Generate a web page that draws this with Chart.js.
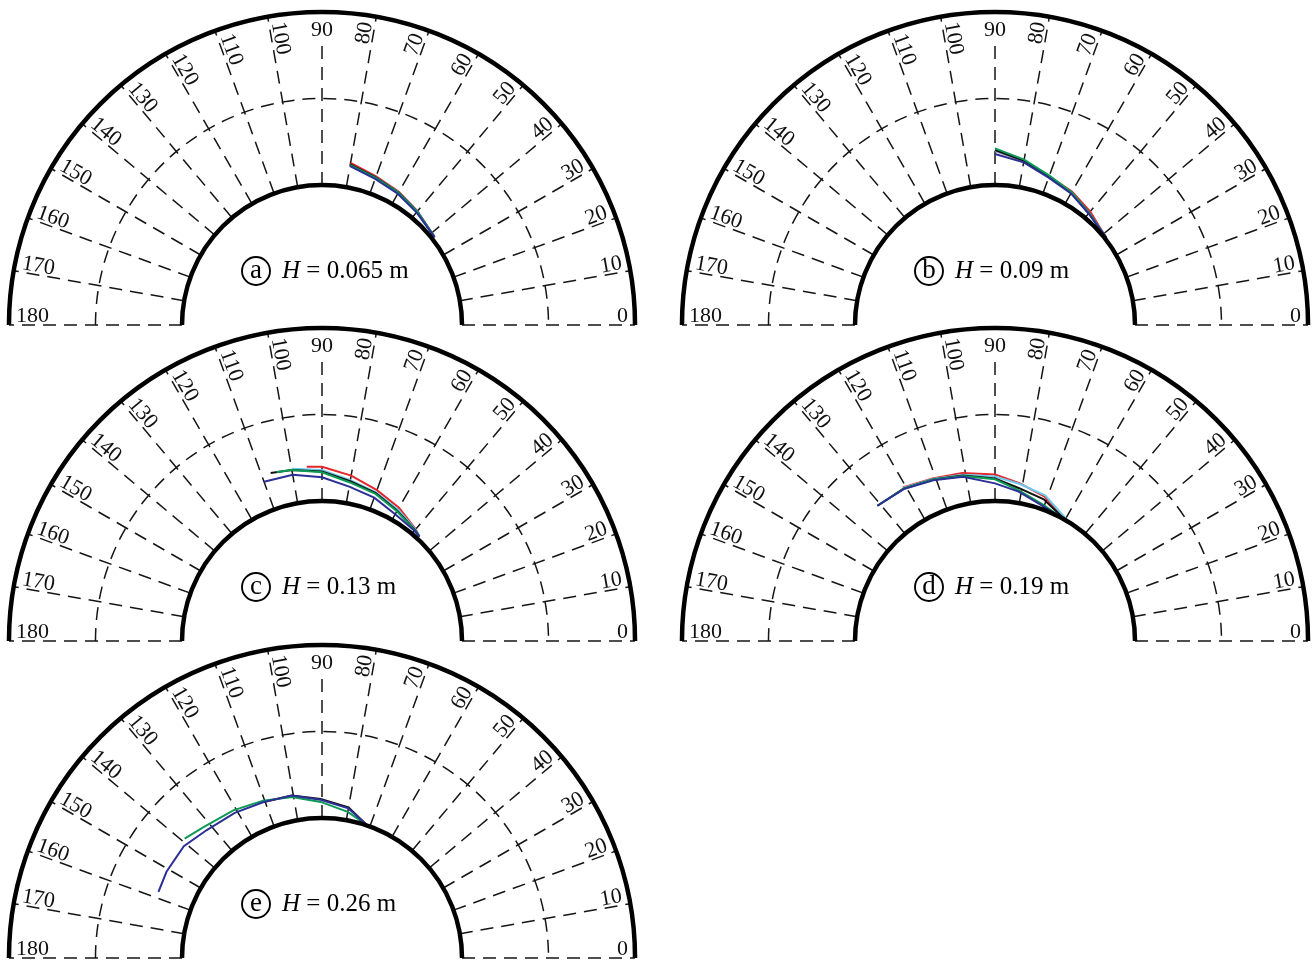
<!DOCTYPE html>
<html>
<head>
<meta charset="utf-8">
<title>Scour profiles around a cylinder</title>
<script src="https://cdn.jsdelivr.net/npm/chart.js@4.4.1/dist/chart.umd.min.js"></script>
<style>
  html, body { margin: 0; padding: 0; background: #fff; }
  body { width: 1314px; height: 961px; overflow: hidden; position: relative; }
  canvas { position: absolute; }
</style>
</head>
<body>
<script>
// ---- angular axis ----
const angleTicks = [0, 10, 20, 30, 40, 50, 60, 70, 80, 90, 100, 110, 120, 130, 140, 150, 160, 170, 180];
const angleTickLabels = ['0', '10', '20', '30', '40', '50', '60', '70', '80', '90', '100', '110', '120', '130', '140', '150', '160', '170', '180'];

// ---- radial rings (in cylinder radii) ----
const ringInner = 1.0;
const ringMid = 1.618;
const ringOuter = 2.236;

// ---- panel captions ----
const panelLetters = ['a', 'b', 'c', 'd', 'e'];
const panelDepths = ['0.065', '0.09', '0.13', '0.19', '0.26'];

// ---- profile data: angle (deg) and radius (cylinder radii) ----
// (a) H = 0.065 m
const aAngles = [80, 70, 60, 50, 38];
const aRed    = [1.175, 1.13, 1.098, 1.062, 1.02];
const aBlack  = [1.165, 1.122, 1.092, 1.058, 1.02];
const aCyan   = [1.162, 1.122, 1.094, 1.060, 1.02];
const aGreen  = [1.160, 1.118, 1.090, 1.058, 1.02];
const aBlue   = [1.152, 1.110, 1.083, 1.050, 1.02];

// (b) H = 0.09 m
const bAngles = [90, 80, 70, 60, 50, 38];
const bRed    = [1.245, 1.190, 1.130, 1.100, 1.058, 1.01];
const bBlack  = [1.250, 1.190, 1.125, 1.090, 1.042, 1.01];
const bCyan   = [1.245, 1.192, 1.128, 1.092, 1.044, 1.01];
const bGreen  = [1.262, 1.200, 1.135, 1.095, 1.046, 1.01];
const bBlue   = [1.222, 1.180, 1.120, 1.085, 1.040, 1.01];

// (c) H = 0.13 m
const cAngles = [110, 107, 105, 100, 95, 90, 80, 70, 60, 50, 47];
const cRed    = [null, null, null, null, 1.250, 1.245, 1.200, 1.147, 1.100, 1.042, 1.02];
const cBlack  = [null, 1.255, null, 1.240, null, 1.210, 1.160, 1.125, 1.075, 1.035, 1.02];
const cCyan   = [null, null, null, 1.250, null, 1.222, 1.167, 1.130, 1.085, 1.040, 1.02];
const cGreen  = [null, null, 1.250, 1.240, null, 1.205, 1.150, 1.118, 1.070, 1.032, 1.02];
const cBlue   = [1.210, null, null, 1.205, null, 1.170, 1.120, 1.090, 1.046, 1.028, 1.02];

// (d) H = 0.19 m
const dAngles = [131, 121, 111, 101, 90, 81, 71, 60, 58];
const dRed    = [null, 1.280, 1.243, 1.222, 1.190, 1.140, 1.090, 1.00, null];
const dBlack  = [1.280, 1.270, 1.235, 1.205, 1.160, 1.105, 1.070, 1.00, null];
const dCyan   = [null, 1.275, 1.240, 1.210, 1.175, 1.135, 1.100, null, 1.00];
const dGreen  = [1.280, 1.268, 1.235, 1.200, 1.155, 1.090, 1.035, 1.00, null];
const dBlue   = [1.280, 1.266, 1.230, 1.195, 1.126, 1.080, 1.025, 1.00, null];

// (e) H = 0.26 m
const eAngles = [158, 151, 141, 139, 132, 121, 110.5, 100.5, 90.5, 80, 71];
const eBlack  = [null, null, null, null, null, null, 1.190, 1.180, 1.135, 1.092, 1.00];
const eGreen  = [null, null, null, 1.300, 1.260, 1.230, 1.200, 1.170, 1.115, 1.060, 1.00];
const eBlue   = [1.260, 1.270, 1.270, null, 1.230, 1.210, 1.190, 1.180, 1.130, 1.085, 1.00];

// ---- series styling (first listed is drawn on top) ----
const seriesColors = { blue: '#2b2f96', green: '#0c9a55', black: '#111111', cyan: '#6fcbee', red: '#e5262b' };

// ---- page layout: polar centre of each panel, in page pixels ----
const panelCentres = [[322, 325], [995, 325], [322, 641], [995, 641], [322, 958]];
const PX_PER_UNIT = 140;
const CANVAS_W = 660, CANVAS_H = 335, ABOVE = 325;
const SERIF = '"Liberation Serif", "Times New Roman", serif';

function toPoints(angles, radii) {
  const pts = [];
  angles.forEach((a, i) => {
    const r = radii[i];
    if (r === null || r === undefined) return;
    const t = a * Math.PI / 180;
    pts.push({ x: r * Math.cos(t), y: r * Math.sin(t) });
  });
  return pts;
}

const panels = [
  { angles: aAngles, series: { blue: aBlue, green: aGreen, black: aBlack, cyan: aCyan, red: aRed } },
  { angles: bAngles, series: { blue: bBlue, green: bGreen, black: bBlack, cyan: bCyan, red: bRed } },
  { angles: cAngles, series: { blue: cBlue, green: cGreen, black: cBlack, cyan: cCyan, red: cRed } },
  { angles: dAngles, series: { blue: dBlue, green: dGreen, black: dBlack, cyan: dCyan, red: dRed } },
  { angles: eAngles, series: { blue: eBlue, green: eGreen, black: eBlack } }
];

// Draws the half-annulus frame: dashed spokes and ring, angle labels,
// thick inner/outer arcs and the caption.
const polarFrame = {
  id: 'polarFrame',
  beforeDatasetsDraw(chart, args, opts) {
    const { ctx, scales: { x, y } } = chart;
    const cx = x.getPixelForValue(0), cy = y.getPixelForValue(0);
    const rad = v => x.getPixelForValue(v) - cx;
    const rIn = rad(ringInner), rMid = rad(ringMid), rOut = rad(ringOuter);
    ctx.save();
    ctx.strokeStyle = '#151515';
    ctx.lineWidth = 1.5;
    ctx.setLineDash([13, 8]);
    angleTicks.forEach(a => {
      const t = a * Math.PI / 180;
      const rEnd = a === 90 ? rOut - 30 : rOut;
      ctx.beginPath();
      ctx.moveTo(cx + rIn * Math.cos(t), cy - rIn * Math.sin(t));
      ctx.lineTo(cx + rEnd * Math.cos(t), cy - rEnd * Math.sin(t));
      ctx.stroke();
    });
    ctx.beginPath();
    ctx.arc(cx, cy, rMid, Math.PI, 2 * Math.PI);
    ctx.stroke();
    ctx.setLineDash([]);

    // angle labels along the spokes, on the side facing 90°
    ctx.fillStyle = '#111';
    ctx.font = '22px ' + SERIF;
    ctx.textBaseline = 'alphabetic';
    const rLab = rOut - 7;
    angleTicks.forEach((a, i) => {
      const t = a * Math.PI / 180;
      const label = angleTickLabels[i];
      ctx.save();
      if (a === 90) {
        ctx.translate(cx, cy - (rOut - 24));
        ctx.textAlign = 'center';
        ctx.fillText(label, 0, 0);
      } else if (a < 90) {
        ctx.translate(cx + rLab * Math.cos(t), cy - rLab * Math.sin(t));
        ctx.rotate(-t);
        ctx.textAlign = 'right';
        ctx.fillText(label, 0, -3);
      } else {
        ctx.translate(cx + rLab * Math.cos(t), cy - rLab * Math.sin(t));
        ctx.rotate(Math.PI - t);
        ctx.textAlign = 'left';
        ctx.fillText(label, 0, -3);
      }
      ctx.restore();
    });
    ctx.restore();
  },
  afterDatasetsDraw(chart, args, opts) {
    const { ctx, scales: { x, y } } = chart;
    const cx = x.getPixelForValue(0), cy = y.getPixelForValue(0);
    const rad = v => x.getPixelForValue(v) - cx;
    ctx.save();
    ctx.strokeStyle = '#000';
    ctx.lineWidth = 4.5;
    [ringInner, ringOuter].forEach(r => {
      ctx.beginPath();
      ctx.arc(cx, cy, rad(r), Math.PI, 2 * Math.PI);
      ctx.stroke();
    });

    // caption: circled letter, italic H, value
    const capY = cy - 47;
    ctx.lineWidth = 1.9;
    ctx.beginPath();
    ctx.arc(cx - 66, cy - 54, 14, 0, 2 * Math.PI);
    ctx.stroke();
    ctx.fillStyle = '#000';
    ctx.font = '27px ' + SERIF;
    ctx.textAlign = 'center';
    ctx.fillText(opts.letter, cx - 66, cy - 47);
    ctx.textAlign = 'left';
    ctx.font = 'italic 25px ' + SERIF;
    let tx = cx - 40;
    ctx.fillText('H', tx, capY);
    tx += ctx.measureText('H').width;
    ctx.font = '25px ' + SERIF;
    ctx.fillText(' = ' + opts.depth + ' m', tx, capY);
    ctx.restore();
  }
};

panels.forEach((p, k) => {
  const [pcx, pcy] = panelCentres[k];
  const canvas = document.createElement('canvas');
  canvas.width = CANVAS_W;
  canvas.height = CANVAS_H;
  canvas.style.width = CANVAS_W + 'px';
  canvas.style.height = CANVAS_H + 'px';
  canvas.style.left = (pcx - CANVAS_W / 2) + 'px';
  canvas.style.top = (pcy - ABOVE) + 'px';
  document.body.appendChild(canvas);

  const datasets = Object.keys(p.series).map(name => ({
    label: name,
    data: toPoints(p.angles, p.series[name]),
    showLine: true,
    borderColor: seriesColors[name],
    backgroundColor: seriesColors[name],
    borderWidth: 2,
    pointRadius: 0,
    tension: 0
  }));

  new Chart(canvas, {
    type: 'scatter',
    data: { datasets },
    options: {
      responsive: false,
      animation: false,
      devicePixelRatio: 1,
      layout: { padding: 0 },
      plugins: {
        legend: { display: false },
        tooltip: { enabled: false },
        polarFrame: { letter: panelLetters[k], depth: panelDepths[k] }
      },
      scales: {
        x: { type: 'linear', display: false, min: -(CANVAS_W / 2) / PX_PER_UNIT, max: (CANVAS_W / 2) / PX_PER_UNIT },
        y: { type: 'linear', display: false, min: -(CANVAS_H - ABOVE) / PX_PER_UNIT, max: ABOVE / PX_PER_UNIT }
      }
    },
    plugins: [polarFrame]
  });
});
</script>
</body>
</html>
